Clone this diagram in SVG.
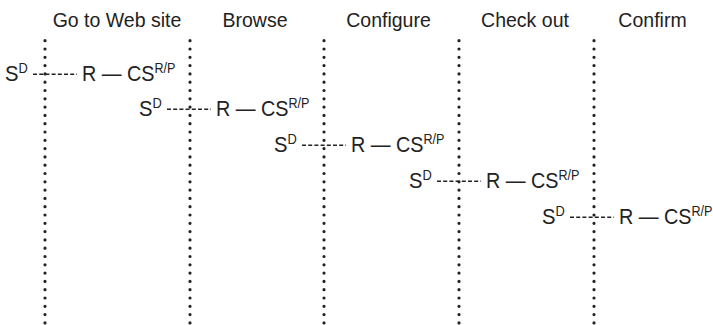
<svg xmlns="http://www.w3.org/2000/svg" width="713" height="325" viewBox="0 0 713 325">
<style>
.hdr{font-family:"Liberation Sans",Arial,sans-serif;font-size:21px;fill:#222;text-anchor:middle}
.t{font-family:"Liberation Sans",Arial,sans-serif;font-size:22px;fill:#222}
.sup{font-size:14px}
.dot{stroke:#222;stroke-width:3.2;stroke-linecap:round;stroke-dasharray:0 8.3;fill:none}
.dash{stroke:#222;stroke-width:1.4;stroke-dasharray:4 2.2;fill:none}
</style>
<rect width="713" height="325" fill="#fff"/>
<g id="headers">
<text class="hdr" transform="translate(117,27) scale(0.93,1)">Go to Web site</text>
<text class="hdr" transform="translate(255,27) scale(0.93,1)">Browse</text>
<text class="hdr" transform="translate(388.5,27) scale(0.93,1)">Configure</text>
<text class="hdr" transform="translate(525,27) scale(0.93,1)">Check out</text>
<text class="hdr" transform="translate(652.5,27) scale(0.93,1)">Confirm</text>
</g>
<g id="connectors">
<line class="dot" x1="45" y1="40.7" x2="45" y2="323"/>
<line class="dot" x1="190" y1="40.7" x2="190" y2="323"/>
<line class="dot" x1="324" y1="40.7" x2="324" y2="323"/>
<line class="dot" x1="459" y1="40.7" x2="459" y2="323"/>
<line class="dot" x1="594" y1="40.7" x2="594" y2="323"/>
</g>
<defs>
<g id="row">
<text class="t" transform="translate(5,81) scale(0.92,1)">S<tspan class="sup" dy="-8">D</tspan></text>
<line class="dash" x1="33" y1="74.3" x2="77" y2="74.3"/>
<text class="t" transform="translate(82,81) scale(0.9,1)">R — CS<tspan class="sup" dy="-8">R/P</tspan></text>
</g>
</defs>
<g id="row1"><use href="#row"/></g>
<g id="row2"><use href="#row" transform="translate(134,35)"/></g>
<g id="row3"><use href="#row" transform="translate(269,71)"/></g>
<g id="row4"><use href="#row" transform="translate(404,107)"/></g>
<g id="row5"><use href="#row" transform="translate(537,143)"/></g>
</svg>
